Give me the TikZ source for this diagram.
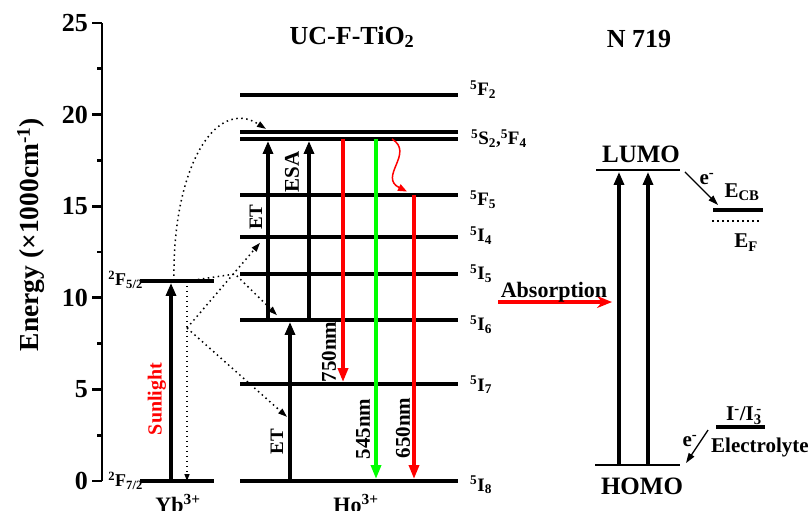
\documentclass[tikz,border=0pt]{standalone}
\usepackage{fontspec}
\setmainfont{Liberation Serif}
\usetikzlibrary{arrows.meta}
\newcommand{\bsz}[1]{\fontsize{#1}{#1}\selectfont\bfseries}
\tikzset{
  lvl/.style   ={line width=3.7pt},
  ax/.style    ={line width=2.8pt},
  up/.style    ={line width=3.1pt, -{Triangle[length=13pt,width=10pt]}, shorten >=2pt},
  emi/.style   ={line width=3.4pt, -{Triangle[length=14pt,width=10pt]}, shorten >=2pt},
  et/.style    ={line width=1.5pt, dash pattern=on 1.5pt off 3.5pt,
                 -{Triangle[length=9pt,width=6pt]}},
  thin/.style  ={line width=1.3pt, -{Triangle[length=10pt,width=6.5pt]}},
  tick/.style  ={font=\bsz{26}, anchor=east, inner sep=0pt},
  lvllab/.style={font=\bsz{19}, anchor=west, inner sep=0pt},
  vlab/.style  ={rotate=90, inner sep=0pt},
  ttl/.style   ={font=\bsz{26}, anchor=base, inner sep=0pt},
  txt/.style   ={font=\bsz{21}, anchor=base, inner sep=0pt},
}

\begin{document}
\begin{tikzpicture}[x=1pt, y=18.32pt]
  \useasboundingbox (0,-1.583) rectangle (811,26.256);
  % energy axis
  \draw[ax] (102,0) -- (102,25);
  \foreach \e in {0,5,...,25} {
    \draw[ax] (92,\e) -- (102,\e);
    \node[tick] at (88,\e) {\e};
  }
  \foreach \e in {2.5,7.5,...,22.5}
    \draw[ax] (97,\e) -- (102,\e);
  \node[vlab, font=\bsz{27.5}] (elab) at (31,13.45) {Energy (×1000cm\textsuperscript{-1})};

  % Yb3+
  \draw[lvl] (140,10.92) coordinate (F52) -- (214,10.92);
  \draw[lvl] (140,0) coordinate (F72) -- (214,0);
  \node[lvllab, anchor=east, font=\bsz{18}] (lF52) at (143,11.0) {\textsuperscript{2}F\textsubscript{5/2}};
  \node[lvllab, anchor=east, font=\bsz{18}] (lF72) at (143,0.0) {\textsuperscript{2}F\textsubscript{7/2}};
  \node[font=\bsz{22}, anchor=north, inner sep=0pt] (yb) at (178,-0.72) {Yb\textsuperscript{3+}};

  % Ho3+
  \foreach \n/\e in {F2/21.07, S2/19.05, F4/18.67, F5/15.61, I4/13.32, I5/11.30, I6/8.79, I7/5.29, I8/0}
    \draw[lvl] (240,\e) coordinate (\n) -- (458,\e);
  \node[lvllab] (lF2) at (470,21.37) {\textsuperscript{5}F\textsubscript{2}};
  \node[lvllab] (lS2) at (471,18.70) {\textsuperscript{5}S\textsubscript{2},\textsuperscript{5}F\textsubscript{4}};
  \node[lvllab] (lF5) at (470,15.37) {\textsuperscript{5}F\textsubscript{5}};
  \node[lvllab] (lI4) at (470,13.40) {\textsuperscript{5}I\textsubscript{4}};
  \node[lvllab] (lI5) at (470,11.33) {\textsuperscript{5}I\textsubscript{5}};
  \node[lvllab] (lI6) at (470,8.52) {\textsuperscript{5}I\textsubscript{6}};
  \node[lvllab] (lI7) at (470,5.24) {\textsuperscript{5}I\textsubscript{7}};
  \node[lvllab] (lI8) at (470,-0.22) {\textsuperscript{5}I\textsubscript{8}};
  \node[font=\bsz{22}, anchor=north, inner sep=0pt] (ho) at (356,-0.72) {Ho\textsuperscript{3+}};
  \node[ttl] (uc) at (352,23.85) {UC-F-TiO\textsubscript{2}};

  % excitation and transfer
  \draw[up] (171,0 |- F72) -- (171,0 |- F52);
  \node[vlab, font=\bsz{20}, text=red] (sun) at (157,4.48) {Sunlight};
  \draw[et, -{Triangle[length=7pt,width=5pt]}] (187,0 |- F52) -- (187,0 |- F72);
  \coordinate (xp) at (187,8.35);
  \coordinate (ethi) at (260,13.0);
  \coordinate (etlo) at (287,3.5);
  \draw[et] (174,0 |- F52) .. controls (172,17) and (215,21) .. (266,19.22);
  \draw[et] (188,0 |- F52) -- (235,0 |- I5) -- (277,9.05);
  \draw[et] (xp) -- (ethi);
  \draw[et] (xp) -- (etlo);

  \draw[up] (268,0 |- I6) -- (268,0 |- F4);
  \draw[up] (309,0 |- I6) -- (309,0 |- F4);
  \draw[up] (290,0 |- I8) -- (290,0 |- I6);
  \node[vlab, font=\bsz{19}] (et1) at (256,14.41) {ET};
  \node[vlab, font=\bsz{21}] (esa) at (292,16.87) {ESA};
  \node[vlab, font=\bsz{19}] (et2) at (277,2.13) {ET};

  % emissions
  \draw[emi, red] (343,0 |- F4) -- (343,0 |- I7);
  \draw[emi, green] (376,0 |- F4) -- (376,0 |- I8);
  \draw[emi, red] (414,0 |- F5) -- (414,0 |- I8);
  \draw[red, line width=1.5pt, -{Triangle[length=9pt,width=7pt]}]
    (392,0 |- F4) .. controls (415,17.9) and (378,16.6) .. (407,15.8);
  \node[vlab, font=\bsz{21}] (n750) at (329,7.04) {750nm};
  \node[vlab, font=\bsz{21}] (n545) at (363,2.84) {545nm};
  \node[vlab, font=\bsz{21}] (n650) at (403,2.89) {650nm};

  % absorption by the dye
  \coordinate (abs1) at (498,9.77);
  \coordinate (abs2) at (612,9.77);
  \draw[red, line width=3.8pt, -{Stealth[length=15pt,width=12pt,inset=5pt]}] (abs1) -- (abs2);
  \node[txt, font=\bsz{22}] (absl) at (554,10.04) {Absorption};

  % N719
  \node[ttl] (dye) at (639,23.69) {N 719};
  \draw[line width=2.8pt] (596,16.98) coordinate (lumo) -- (680,16.98) coordinate (lumoe);
  \draw[line width=2.8pt] (595,0.87) coordinate (homo) -- (680,0.87);
  \node[ttl, font=\bsz{25}] (llumo) at (641,17.36) {LUMO};
  \node[ttl, font=\bsz{25}] (lhomo) at (642,-0.76) {HOMO};
  \draw[up] (619,0 |- homo) -- (619,0 |- lumo);
  \draw[up] (648,0 |- homo) -- (648,0 |- lumo);

  % TiO2 bands and electrolyte
  \draw[lvl] (713,14.79) coordinate (ecb) -- (763,14.79);
  \draw[line width=1.4pt, dash pattern=on 1.5pt off 3.5pt] (712,14.19) coordinate (ef) -- (760,14.19);
  \draw[lvl] (716,2.95) coordinate (redox) -- (765,2.95);
  \node[txt] (lecb) at (742,15.50) {E\textsubscript{CB}};
  \node[txt] (lef) at (746,12.72) {E\textsubscript{F}};
  \node[txt] (lred) at (744,3.28) {I\textsuperscript{-}/I\textsubscript{3}\kern-0.25em\textsuperscript{-}};
  \node[txt] (lelec) at (760,1.53) {Electrolyte};
  \draw[thin] (685,16.87) coordinate (e1) -- (718,15.07) coordinate (e2);
  \draw[thin] (708,2.78) coordinate (e3) -- (686,0.98) coordinate (e4);
  \node[txt] (le1) at (707,16.16) {e\textsuperscript{-}};
  \node[txt] (le2) at (690,1.86) {e\textsuperscript{-}};
\end{tikzpicture}
\end{document}
